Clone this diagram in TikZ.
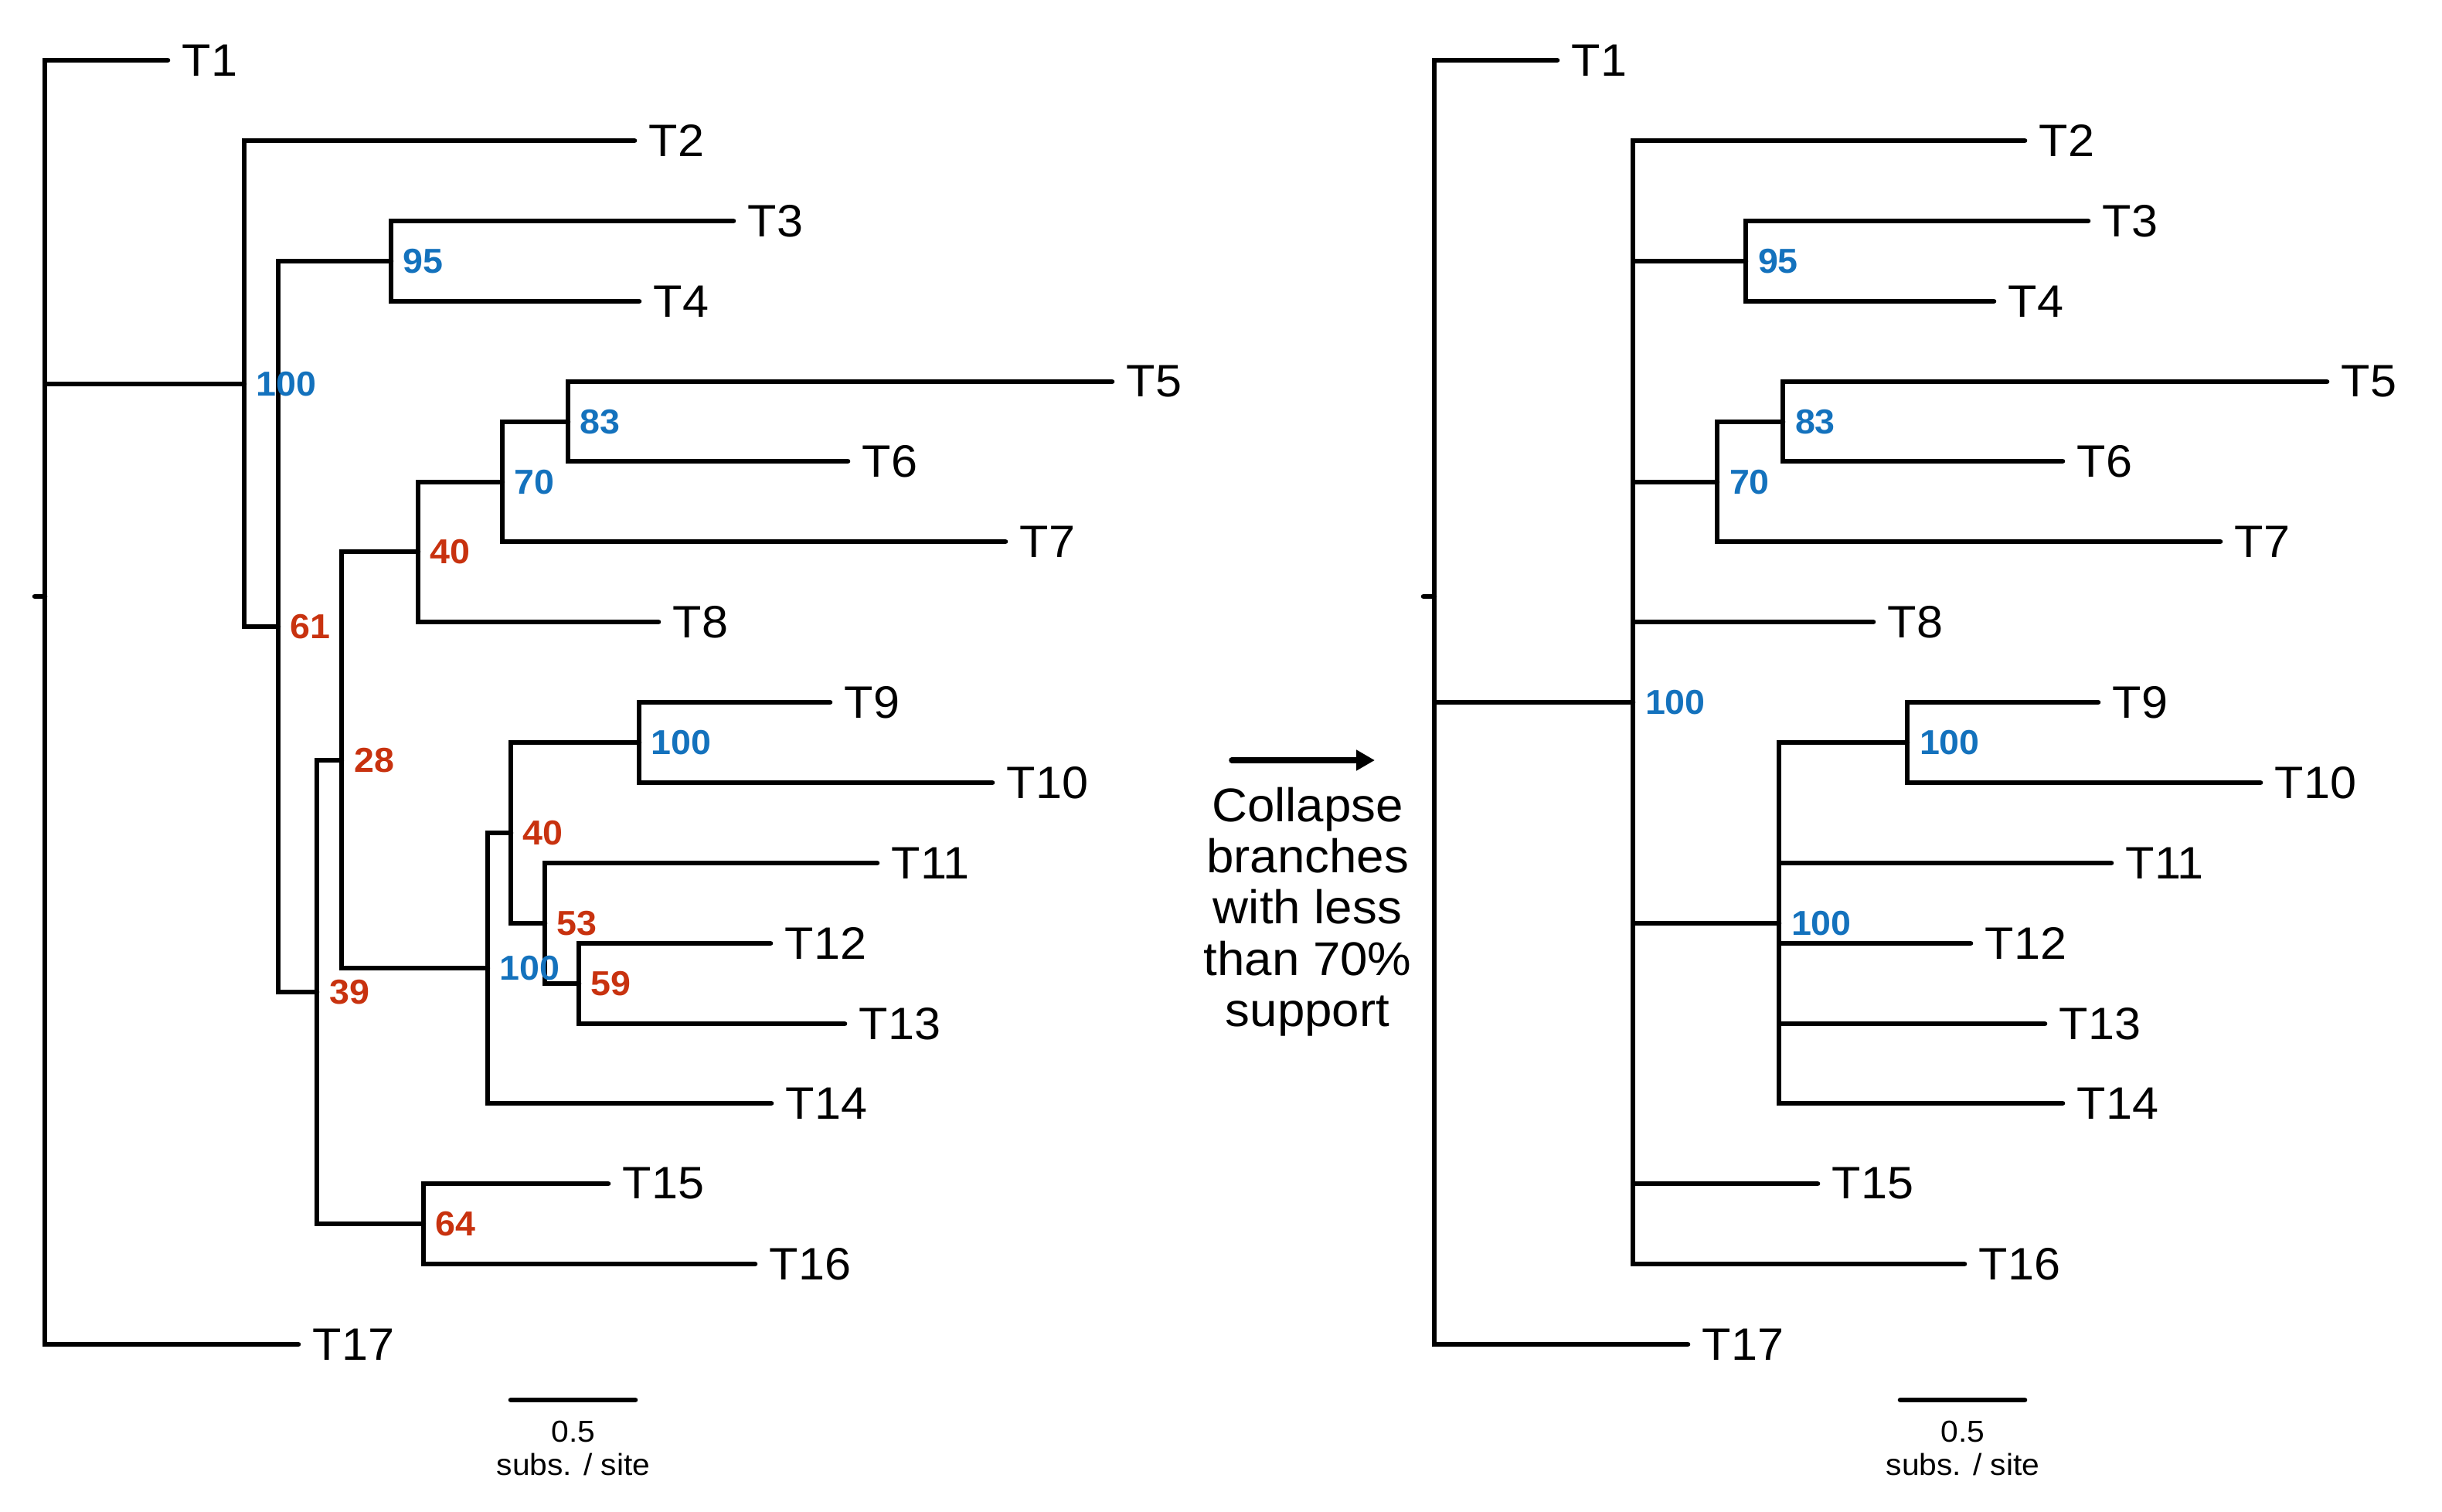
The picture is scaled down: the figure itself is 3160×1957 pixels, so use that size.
\documentclass[tikz,border=0pt]{standalone}
\usepackage{fontspec}
\setmainfont[FakeStretch=1.04]{Liberation Sans}
\usetikzlibrary{arrows.meta}
\definecolor{supblue}{RGB}{20,114,189}
\definecolor{supred}{RGB}{200,50,15}
\begin{document}
\begin{tikzpicture}[x=0.25pt,y=-0.25pt,
  br/.style={line width=1.65pt, line cap=round},
  leaf/.style={anchor=west, inner sep=0pt, font=\fontsize{14.7}{16}\selectfont},
  supb/.style={anchor=west, inner sep=0pt, font=\bfseries\fontsize{11.2}{13}\selectfont, text=supblue},
  supr/.style={supb, text=supred},
  scl/.style={anchor=base, inner sep=0pt, font=\fontsize{9.8}{11}\selectfont},
  note/.style={anchor=north, inner sep=0pt, align=center, font=\fontsize{15.3}{16.6}\selectfont},
  arr/.style={line width=1.9pt, line cap=round, -{Triangle[length=6pt,width=6.4pt]}}
]
\useasboundingbox (0,0) rectangle (3160,1957);

% ---------------- left tree ----------------
\coordinate (r) at (58,772);
\coordinate (rs) at (45,772);
\coordinate (L1) at (217,78);
\coordinate (L17) at (386,1740);
\coordinate (a100) at (316,497);
\coordinate (L2) at (821,182);
\coordinate (a61) at (360,811);
\coordinate (a95) at (506,338);
\coordinate (L3) at (949,286);
\coordinate (L4) at (827,390);
\coordinate (a39) at (410,1284);
\coordinate (a28) at (442,984);
\coordinate (a40) at (541,714);
\coordinate (a70) at (650,624);
\coordinate (a83) at (735,546);
\coordinate (L5) at (1439,494);
\coordinate (L6) at (1097,597);
\coordinate (L7) at (1301,701);
\coordinate (L8) at (852,805);
\coordinate (b100) at (631,1253);
\coordinate (b40) at (661,1078);
\coordinate (c100) at (827,961);
\coordinate (L9) at (1074,909);
\coordinate (L10) at (1284,1013);
\coordinate (b53) at (705,1195);
\coordinate (L11) at (1135,1117);
\coordinate (b59) at (749,1273);
\coordinate (L12) at (997,1221);
\coordinate (L13) at (1093,1325);
\coordinate (L14) at (998,1428);
\coordinate (b64) at (548,1584);
\coordinate (L15) at (787,1532);
\coordinate (L16) at (977,1636);

\draw[br] (r) -- (rs);
\foreach \p/\c in {r/L1, r/a100, r/L17, a100/L2, a100/a61, a61/a95, a61/a39,
  a95/L3, a95/L4, a39/a28, a39/b64, a28/a40, a28/b100, a40/a70, a40/L8,
  a70/a83, a70/L7, a83/L5, a83/L6, b100/b40, b100/L14, b40/c100, b40/b53,
  c100/L9, c100/L10, b53/L11, b53/b59, b59/L12, b59/L13, b64/L15, b64/L16}
  \draw[br] (\p) |- (\c);

\foreach \k in {1,...,17}
  \node[leaf] (tl\k) at ([xshift=4.5pt]L\k) {T\k};

\node[supb] (sa100) at ([xshift=3.6pt]a100) {100};
\node[supb] (sa95) at ([xshift=3.6pt]a95) {95};
\node[supb] (sa83) at ([xshift=3.6pt]a83) {83};
\node[supb] (sa70) at ([xshift=3.6pt]a70) {70};
\node[supb] (sc100) at ([xshift=3.6pt]c100) {100};
\node[supb] (sb100) at ([xshift=3.6pt]b100) {100};
\node[supr] (sa61) at ([xshift=3.6pt]a61) {61};
\node[supr] (sa40) at ([xshift=3.6pt]a40) {40};
\node[supr] (sa28) at ([xshift=3.9pt]a28) {28};
\node[supr] (sa39) at ([xshift=3.9pt]a39) {39};
\node[supr] (sb40) at ([xshift=3.6pt]b40) {40};
\node[supr] (sb53) at ([xshift=3.6pt]b53) {53};
\node[supr] (sb59) at ([xshift=3.6pt]b59) {59};
\node[supr] (sb64) at ([xshift=3.6pt]b64) {64};

% scale bar left
\coordinate (sl1) at (661,1812);
\coordinate (sl2) at (822,1812);
\draw[br] (sl1) -- (sl2);
\node[scl] (sl05) at (742,1866) {0.5};
\node[scl] (slsub) at (742,1909) {subs. / site};

% ---------------- arrow and note ----------------
\coordinate (ar1) at (1594,984);
\coordinate (ar2) at (1779,984);
\draw[arr] (ar1) -- (ar2);
\node[note] (note) at (1692,1018) {Collapse\\branches\\with less\\than 70\%\\support};

% ---------------- right tree ----------------
\coordinate (R) at (1856,772);
\coordinate (Rs) at (1842,772);
\coordinate (RL1) at (2015,78);
\coordinate (RL17) at (2184,1740);
\coordinate (S) at (2113,909);
\coordinate (RL2) at (2620,182);
\coordinate (R95) at (2259,338);
\coordinate (RL3) at (2702,286);
\coordinate (RL4) at (2580,390);
\coordinate (R70) at (2222,624);
\coordinate (R83) at (2307,546);
\coordinate (RL5) at (3011,494);
\coordinate (RL6) at (2669,597);
\coordinate (RL7) at (2873,701);
\coordinate (RL8) at (2424,805);
\coordinate (R100) at (2302,1195);
\coordinate (R100b) at (2468,961);
\coordinate (RL9) at (2715,909);
\coordinate (RL10) at (2925,1013);
\coordinate (RL11) at (2732,1117);
\coordinate (RL12) at (2550,1221);
\coordinate (RL13) at (2646,1325);
\coordinate (RL14) at (2669,1428);
\coordinate (RL15) at (2352,1532);
\coordinate (RL16) at (2542,1636);

\draw[br] (R) -- (Rs);
\foreach \p/\c in {R/RL1, R/S, R/RL17, S/RL2, S/R95, S/R70, S/RL8, S/R100,
  S/RL15, S/RL16, R95/RL3, R95/RL4, R70/R83, R70/RL7, R83/RL5, R83/RL6,
  R100/R100b, R100/RL11, R100/RL12, R100/RL13, R100/RL14, R100b/RL9, R100b/RL10}
  \draw[br] (\p) |- (\c);

\foreach \k in {1,...,17}
  \node[leaf] (tr\k) at ([xshift=4.5pt]RL\k) {T\k};

\node[supb] (sR95) at ([xshift=3.8pt]R95) {95};
\node[supb] (sR83) at ([xshift=3.8pt]R83) {83};
\node[supb] (sR70) at ([xshift=3.8pt]R70) {70};
\node[supb] (sS) at ([xshift=3.8pt]S) {100};
\node[supb] (sR100b) at ([xshift=3.8pt]R100b) {100};
\node[supb] (sR100) at ([xshift=3.8pt]R100) {100};

% scale bar right
\coordinate (sr1) at (2459,1812);
\coordinate (sr2) at (2620,1812);
\draw[br] (sr1) -- (sr2);
\node[scl] (sr05) at (2540,1866) {0.5};
\node[scl] (srsub) at (2540,1909) {subs. / site};
\end{tikzpicture}
\end{document}
